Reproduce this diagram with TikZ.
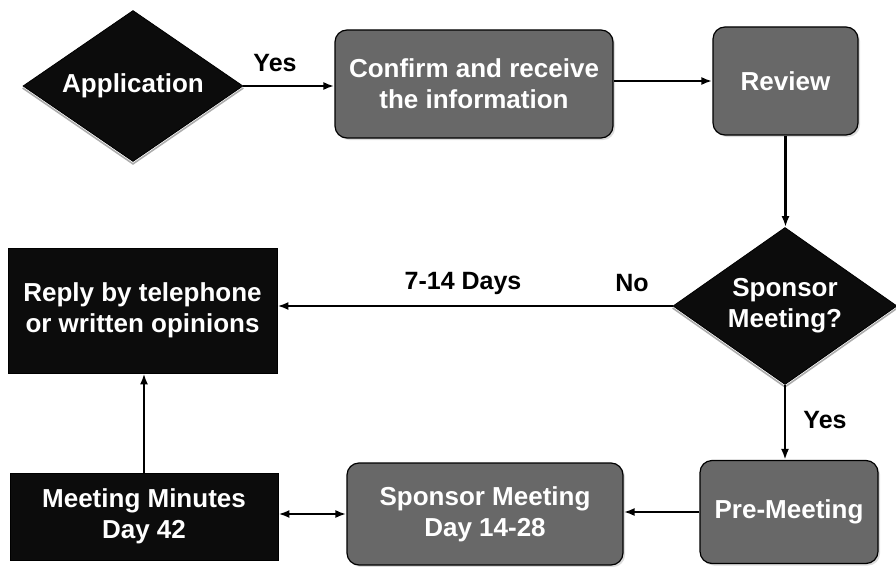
\documentclass[tikz,border=0pt]{standalone}
\usepackage{fontspec}
\setmainfont{Liberation Sans}
\usetikzlibrary{shapes.geometric,arrows.meta,shadows}
\definecolor{boxgray}{HTML}{686868}
\definecolor{boxblack}{HTML}{0C0C0C}
\begin{document}
\begin{tikzpicture}[x=1pt,y=-1pt,
  nodetext/.style={font=\fontsize{26}{31}\selectfont\bfseries, text=white, align=center, inner sep=0pt},
  decision/.style={nodetext, diamond, fill=boxblack, draw=black, line width=0.8pt},
  softbox/.style={nodetext, rectangle, rounded corners=12pt, fill=boxgray, draw=black, line width=1.2pt,
    drop shadow={shadow xshift=2pt, shadow yshift=-2pt, fill=gray!55}},
  hardbox/.style={nodetext, rectangle, fill=boxblack, draw=black, line width=0.8pt},
  flow/.style={line width=2.4pt, -{Latex[length=11pt,width=8pt]}},
  twoway/.style={line width=2.4pt, {Latex[length=11pt,width=8pt]}-{Latex[length=11pt,width=8pt]}},
  lbl/.style={font=\fontsize{25}{30}\selectfont\bfseries, inner sep=0pt},
  bevel/.style={draw=gray!65, line width=1.6pt}
]
\useasboundingbox (0,0) rectangle (896,567);

% decisions
\node[decision, aspect=1.46, minimum width=220pt, minimum height=151pt] (app) at (133,86) {Application};
\node[decision, aspect=1.43, minimum width=224pt, minimum height=157pt] (sp) at (785,306) {Sponsor\\Meeting?};
\draw[bevel] ([yshift=-2pt]app.west) -- ([yshift=-2pt]app.south) -- ([yshift=-2pt]app.east);
\draw[bevel] ([yshift=-2pt]sp.west) -- ([yshift=-2pt]sp.south) -- ([yshift=-2pt]sp.east);

% process steps
\node[softbox, minimum width=278pt, minimum height=108pt] (conf) at (474,84) {Confirm and receive\\the information};
\node[softbox, minimum width=145pt, minimum height=108pt] (rev) at (785.5,81) {Review};
\node[softbox, minimum width=178pt, minimum height=103pt] (pre) at (789,512) {Pre-Meeting};
\node[softbox, minimum width=276pt, minimum height=102pt] (spm) at (485,514) {Sponsor Meeting\\Day 14-28};
\node[hardbox, minimum width=269pt, minimum height=125pt] (reply) at (142.5,310.5) {Reply by telephone\\or written opinions};
\node[hardbox, minimum width=268pt, minimum height=87pt] (mm) at (144,516.5) {Meeting Minutes\\Day 42};

% connectors
\draw[flow] (app.east) -- (app.east -| conf.west);
\draw[flow] (rev.west -| conf.east) -- (rev.west);
\draw[flow] (rev.south) -- (rev.south |- sp.north);
\draw[flow] (sp.west) -- (sp.west -| reply.east);
\draw[flow] (sp.south) -- (sp.south |- pre.north);
\draw[flow] (pre.west) -- (pre.west -| spm.east);
\draw[twoway] (spm.west) -- (spm.west -| mm.east);
\draw[flow] (mm.north) -- (mm.north |- reply.south);

% labels
\node[lbl] (yesA) at (275,63) {Yes};
\node[lbl] (days) at (463,283) {7-14 Days};
\node[lbl] (no) at (632,283) {No};
\node[lbl] (yesB) at (825,420) {Yes};
\end{tikzpicture}
\end{document}
